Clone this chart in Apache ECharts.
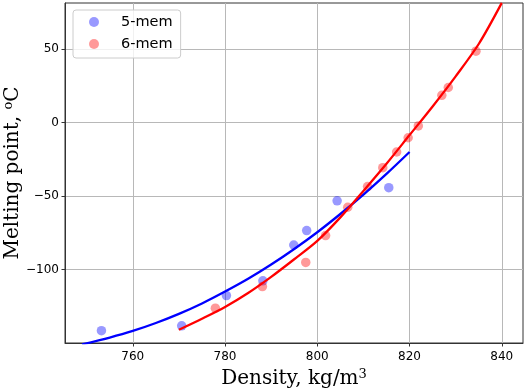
<!DOCTYPE html>
<html>
<head>
<meta charset="utf-8">
<script src="https://cdn.jsdelivr.net/npm/echarts@6/dist/echarts.min.js"></script>
<style>html,body{margin:0;padding:0;background:#fff}#c{width:526px;height:392px}</style>
</head>
<body>
<div id="c"></div>
<script>
const xTicks = [760, 780, 800, 820, 840];
const yTicks = [-100, -50, 0, 50];

const mem5Name = '5-mem';
const mem5X = [753.2, 770.6, 780.3, 788.2, 794.9, 797.7, 804.3, 815.5];
const mem5Y = [-141.6, -138.3, -117.7, -107.7, -83.3, -73.5, -53.2, -44.3];

const mem6Name = '6-mem';
const mem6X = [777.9, 788.1, 797.5, 801.8, 806.6, 810.9, 814.2, 817.2, 819.7, 821.9, 827.0, 828.4, 834.4];
const mem6Y = [-126.3, -111.6, -95.2, -76.9, -57.6, -43.5, -30.7, -20.0, -10.3, -2.3, 18.6, 23.9, 48.6];

const fit5X = [749, 755, 760, 765, 770, 775, 780, 785, 790, 795, 800, 805, 810, 815, 820];
const fit5Y = [-151, -146.3, -141.8, -136.4, -130.2, -123.1, -115, -106.3, -96.6, -86, -74.6, -62.2, -49, -34.9, -20];

const fit6X = [770, 775, 780, 785, 790, 795, 800, 805, 810, 815, 820, 825, 830, 835, 840];
const fit6Y = [-141, -133.5, -125.5, -116, -105, -93, -80.5, -64.5, -46.5, -28, -8.5, 11, 31.5, 53.5, 81.5];

const zip = (xs, ys) => xs.map((x, i) => [x, ys[i]]);
const minus = v => String(v).replace('-', '\u2212');

const chart = echarts.init(document.getElementById('c'), null, {renderer: 'canvas'});
const frame = '#333333';
const supRich = {sup: {fontFamily: 'DejaVu Serif', fontSize: 13, verticalAlign: 'top', padding: [0, 0, 9, 0], color: '#000'}};
chart.setOption({
  animation: false,
  backgroundColor: '#ffffff',
  grid: {left: 65, top: 3, width: 458, height: 340, show: true, borderColor: frame, borderWidth: 1,
         backgroundColor: 'transparent', containLabel: false, outerBoundsMode: 'none'},
  legend: {
    orient: 'vertical', left: 73, top: 10,
    data: [mem5Name, mem6Name],
    icon: 'circle', itemWidth: 10, itemHeight: 10, itemGap: 4,
    padding: [3, 8, 5, 16],
    backgroundColor: 'rgba(255,255,255,0.8)', borderColor: '#cccccc', borderWidth: 1, borderRadius: 3,
    textStyle: {fontFamily: 'DejaVu Sans', fontSize: 14.5, color: '#000', lineHeight: 18, padding: [0, 0, 0, 17]}
  },
  xAxis: {
    type: 'value', min: 745.3, max: 844.6, splitNumber: 5,
    name: 'Density, kg/m{sup|3}', nameLocation: 'middle', nameGap: 25, nameMoveOverlap: false,
    nameTextStyle: {fontFamily: 'DejaVu Serif', fontSize: 20, color: '#000', rich: supRich},
    axisLine: {show: true, onZero: false, lineStyle: {color: frame, width: 1}},
    axisTick: {show: true, length: 3.5, inside: false, lineStyle: {color: frame}, customValues: xTicks},
    axisLabel: {fontFamily: 'DejaVu Sans', fontSize: 12, color: '#000', margin: 8, customValues: xTicks, formatter: minus},
    splitLine: {show: true, lineStyle: {color: '#b8b8b8', width: 1}}
  },
  yAxis: {
    type: 'value', min: -150, max: 81.4, splitNumber: 5,
    name: 'Melting point, {sup|o}C', nameLocation: 'middle', nameGap: 41, nameMoveOverlap: false,
    nameTextStyle: {fontFamily: 'DejaVu Serif', fontSize: 20, color: '#000', rich: supRich},
    axisLine: {show: true, onZero: false, lineStyle: {color: frame, width: 1}},
    axisTick: {show: true, length: 3.5, inside: false, lineStyle: {color: frame}, customValues: yTicks},
    axisLabel: {fontFamily: 'DejaVu Sans', fontSize: 12, color: '#000', margin: 6, customValues: yTicks, formatter: minus},
    splitLine: {show: true, lineStyle: {color: '#b8b8b8', width: 1}}
  },
  series: [
    {name: mem5Name, type: 'scatter', data: zip(mem5X, mem5Y), symbol: 'circle', symbolSize: 9.5,
     itemStyle: {color: 'rgba(0,0,255,0.5)'}, z: 3},
    {name: mem6Name, type: 'scatter', data: zip(mem6X, mem6Y), symbol: 'circle', symbolSize: 9.5,
     itemStyle: {color: 'rgba(255,0,0,0.5)'}, z: 4},
    {name: 'fit5', type: 'line', data: zip(fit5X, fit5Y), showSymbol: false, smooth: 0.3, clip: true,
     lineStyle: {color: '#0000ff', width: 2.3}, z: 5},
    {name: 'fit6', type: 'line', data: zip(fit6X, fit6Y), showSymbol: false, smooth: 0.3, clip: true,
     lineStyle: {color: '#ff0000', width: 2.3}, z: 6}
  ]
});
</script>
</body>
</html>
